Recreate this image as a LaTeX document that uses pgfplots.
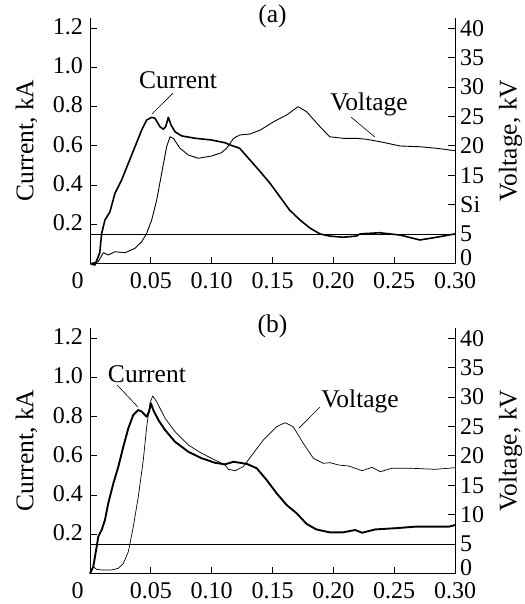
\documentclass[border=0pt]{standalone}
\usepackage{pgfplots}
\pgfplotsset{compat=1.18}
\usepackage{fontspec}
\setmainfont{Liberation Serif}

\pgfplotstableread{
x I
0 0
0.004 -0.008
0.008 0.054
0.0096 0.154
0.0123 0.222
0.0164 0.264
0.0205 0.358
0.026 0.426
0.0315 0.511
0.037 0.596
0.0425 0.681
0.0466 0.732
0.0507 0.746
0.0534 0.741
0.0575 0.698
0.0603 0.685
0.0622 0.698
0.0644 0.746
0.0666 0.707
0.0699 0.672
0.0753 0.651
0.0863 0.639
0.1 0.630
0.111 0.616
0.115 0.605
0.123 0.588
0.1315 0.528
0.14 0.468
0.148 0.409
0.156 0.341
0.164 0.273
0.1726 0.222
0.181 0.180
0.189 0.151
0.197 0.140
0.208 0.134
0.219 0.140
0.222 0.151
0.238 0.157
0.255 0.145
0.271 0.120
0.285 0.134
0.30 0.151
}\curA

\pgfplotstableread{
x V
0 0
0.0068 0.31
0.011 1.84
0.015 1.45
0.0205 2.0
0.0288 1.84
0.037 2.59
0.0425 3.71
0.0466 5.14
0.0507 7.40
0.0548 10.8
0.0589 15.34
0.063 19.86
0.0658 21.56
0.0685 21.29
0.074 19.59
0.0808 18.45
0.089 17.89
0.1 18.28
0.108 18.84
0.1123 19.59
0.118 21.29
0.123 21.85
0.1315 22.02
0.14 22.70
0.151 24.12
0.1617 25.26
0.171 26.67
0.178 25.82
0.189 23.27
0.197 21.56
0.208 21.29
0.219 21.29
0.2274 21.12
0.2384 20.71
0.255 19.98
0.271 19.86
0.285 19.59
0.30 19.18
}\volA

\pgfplotstableread{
x I
0 0
0.0027 0.035
0.0055 0.137
0.0068 0.188
0.0096 0.222
0.0123 0.273
0.015 0.358
0.0192 0.460
0.0233 0.545
0.0274 0.647
0.0315 0.741
0.0356 0.809
0.0397 0.834
0.0425 0.826
0.0466 0.800
0.0485 0.826
0.0501 0.868
0.052 0.834
0.0562 0.783
0.0617 0.732
0.0699 0.672
0.0808 0.621
0.0918 0.588
0.1027 0.565
0.111 0.557
0.118 0.570
0.129 0.559
0.137 0.537
0.1452 0.477
0.1534 0.409
0.1617 0.349
0.1699 0.307
0.178 0.253
0.186 0.225
0.197 0.210
0.208 0.210
0.218 0.222
0.2236 0.208
0.2345 0.225
0.251 0.231
0.2674 0.239
0.295 0.239
0.30 0.247
}\curB

\pgfplotstableread{
x V
0 0
0.0027 1.16
0.0055 0.71
0.0096 0.60
0.0178 0.60
0.0233 0.88
0.0274 1.70
0.0315 3.71
0.0356 7.96
0.0397 13.06
0.0438 19.30
0.0466 24.97
0.0493 28.95
0.0515 30.19
0.0548 29.22
0.0617 26.39
0.0699 24.12
0.0808 21.85
0.0918 20.44
0.1027 19.30
0.111 18.45
0.1137 17.72
0.1192 17.48
0.126 18.16
0.1342 20.44
0.1425 22.70
0.1534 24.97
0.1603 25.65
0.167 24.97
0.1753 22.14
0.1836 19.59
0.1918 18.74
0.1975 18.84
0.2044 18.45
0.2126 18.28
0.2236 17.48
0.2318 18.06
0.2386 17.31
0.248 17.89
0.2646 17.89
0.2838 17.72
0.30 17.99
}\volB

\pgfplotsset{
  panel/.style={
    scale only axis, width=365pt, height=246pt,
    xmin=0, xmax=0.30, anchor=south west,
    clip=false,
    tick align=inside, major tick length=7pt,
    axis line style={line width=0.8pt, black},
    tick style={line width=0.8pt, black},
    tick label style={font=\fontsize{24}{28}\selectfont, inner sep=0pt},
    label style={font=\fontsize{25.5}{30}\selectfont},
  },
  curaxis/.style={
    panel, ymin=0, ymax=1.255,
    axis x line*=bottom, axis y line*=left,
    xtick={0,0.05,0.1,0.15,0.2,0.25,0.3},
    xticklabels={,0.05,0.10,0.15,0.20,0.25,0.30},
    xticklabel style={anchor=north, yshift=-8.5pt},
    ytick={0.2,0.4,0.6,0.8,1.0,1.2},
    yticklabels={0.2,0.4,0.6,0.8,1.0,1.2},
    yticklabel style={anchor=east, xshift=-7pt, yshift=1.5pt},
    ylabel={Current, kA},
    ylabel style={at={(axis description cs:-0.174,0.5)}, anchor=center, rotate=0},
    title style={at={(axis description cs:0.5,0.98)}, anchor=center, font=\fontsize{25.5}{30}\selectfont, inner sep=0pt},
  },
  volaxis/.style={
    panel, ymin=0, ymax=41.833,
    axis x line=none, axis y line*=right,
    ytick={5,10,15,20,25,30,35,40},
    yticklabel style={anchor=west, xshift=5pt},
    extra y ticks={0}, extra y tick labels={0},
    extra y tick style={yticklabel style={yshift=6pt}},
    ylabel={Voltage, kV},
    ylabel style={at={(axis description cs:1.152,0.5)}, anchor=center, rotate=0},
  },
}

\begin{document}
\begin{tikzpicture}
\useasboundingbox (0pt,0pt) rectangle (524pt,-604pt);

% ---------- panel (a) ----------
\begin{axis}[curaxis, at={(90pt,-263.5pt)}, title={(a)}]
\addplot[black, line width=1.6pt, line join=round] table[x=x,y=I] {\curA};
\node[font=\fontsize{25.5}{30}\selectfont, inner sep=0pt] at (axis cs:0.0723,0.936) {Current};
\draw[line width=0.6pt] (axis cs:0.0682,0.869) -- (axis cs:0.051,0.763);
\node[font=\fontsize{24}{28}\selectfont, inner sep=0pt, anchor=north] at ([xshift=-12.5pt,yshift=-8.5pt]axis cs:0,0) {0};
\end{axis}
\begin{axis}[volaxis, at={(90pt,-263.5pt)}, yticklabels={5,Si,15,20,25,30,35,40}]
\addplot[black, line width=0.6pt] coordinates {(0,5) (0.30,5)};
\addplot[black, line width=0.9pt, line join=round] table[x=x,y=V] {\volA};
\node[font=\fontsize{25.5}{30}\selectfont, inner sep=0pt] at (axis cs:0.2293,27.13) {Voltage};
\draw[line width=0.6pt] (axis cs:0.2145,24.9) -- (axis cs:0.2342,21.5);
\end{axis}

% ---------- panel (b) ----------
\begin{axis}[curaxis, at={(90pt,-573.5pt)}, title={(b)}]
\addplot[black, line width=1.9pt, line join=round] table[x=x,y=I] {\curB};
\node[font=\fontsize{25.5}{30}\selectfont, inner sep=0pt] at (axis cs:0.0468,1.018) {Current};
\draw[line width=0.6pt] (axis cs:0.0222,0.962) -- (axis cs:0.0395,0.849);
\node[font=\fontsize{24}{28}\selectfont, inner sep=0pt, anchor=north] at ([xshift=-12.5pt,yshift=-8.5pt]axis cs:0,0) {0};
\end{axis}
\begin{axis}[volaxis, at={(90pt,-573.5pt)}, yticklabels={5,10,15,20,25,30,35,40}]
\addplot[black, line width=0.6pt] coordinates {(0,5) (0.30,5)};
\addplot[black, line width=0.7pt, line join=round] table[x=x,y=V] {\volB};
\node[font=\fontsize{25.5}{30}\selectfont, inner sep=0pt] at (axis cs:0.2219,29.33) {Voltage};
\draw[line width=0.6pt] (axis cs:0.189,28.3) -- (axis cs:0.1718,24.73);
\end{axis}
\end{tikzpicture}
\end{document}
